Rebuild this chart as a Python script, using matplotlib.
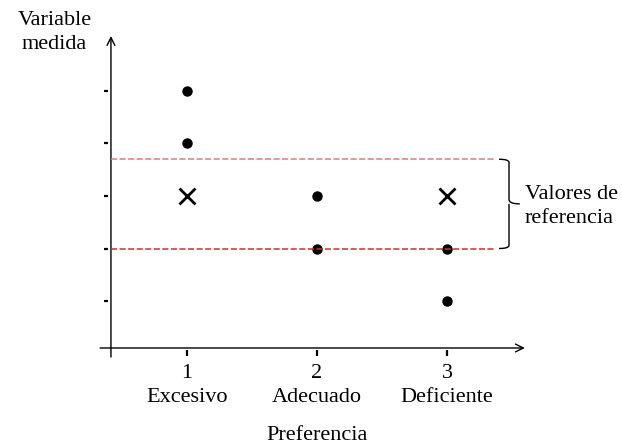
import matplotlib.pyplot as plt
from matplotlib.path import Path
from matplotlib.patches import PathPatch

# datos
categorias = [1, 2, 3]
nombres = ['Excesivo', 'Adecuado', 'Deficiente']
puntos_x = [1, 1, 2, 2, 3, 3]
puntos_y = [5, 4, 3, 2, 2, 1]
cruces_x = [1, 3]
cruces_y = [3, 3]
ref_sup = 3.7
ref_inf = 2.0
yticks = [1, 2, 3, 4, 5]

plt.rcParams['font.family'] = ['Liberation Serif', 'DejaVu Serif']

fig = plt.figure(figsize=(6.22, 4.44), dpi=100)
ax = fig.add_axes([0, 0, 1, 1])
ax.set_xlim(-57 / 130, 565 / 130)
ax.set_ylim(-90.5 / 52.5, 353.5 / 52.5)
ax.axis('off')

# ejes con flecha
flecha = dict(arrowstyle='->', color='black', lw=1.0, mutation_scale=14)
ax.annotate('', xy=(3.62, 0.105), xytext=(0.31, 0.105), arrowprops=flecha)
ax.annotate('', xy=(0.415, 6.1), xytext=(0.415, -0.12), arrowprops=flecha)

# marcas de los ejes
for yt in yticks:
    ax.plot([0.36, 0.39], [yt, yt], color='black', lw=1.6, solid_capstyle='butt')
for xt in categorias:
    ax.plot([xt, xt], [0.06, -0.05], color='black', lw=1.6, solid_capstyle='butt')
    ax.text(xt, -0.2, str(xt), ha='center', va='top', fontsize=16)
for xt, nm in zip(categorias, nombres):
    ax.text(xt, -0.66, nm, ha='center', va='top', fontsize=16)

# puntos
ax.plot(puntos_x, puntos_y, 'o', color='black', markersize=6.5, zorder=2)
ax.plot(cruces_x, cruces_y, 'x', color='black', markersize=11, mew=2, zorder=2)

# líneas de referencia
ax.plot([0.415, 3.36], [ref_sup, ref_sup], color='#e07a7a', lw=1.1, ls=(0, (4, 1.6)), zorder=3)
ax.plot([0.415, 3.36], [ref_inf, ref_inf], color='#c8323a', lw=1.1, ls=(0, (4, 1.6)), zorder=3)

# llave
x0 = 3.40
xm = 3.477
xb = 3.56
medio = (ref_sup + ref_inf) / 2
verts = [(x0, ref_sup), (xm, ref_sup), (xm, ref_sup - 0.06),
         (xm, medio + 0.08), (xm, medio), (xb, medio),
         (xm, medio), (xm, medio - 0.08),
         (xm, ref_inf + 0.06), (xm, ref_inf), (x0, ref_inf)]
codes = [Path.MOVETO, Path.CURVE3, Path.CURVE3, Path.LINETO, Path.CURVE3, Path.CURVE3,
         Path.MOVETO, Path.LINETO, Path.LINETO, Path.CURVE3, Path.CURVE3]
ax.add_patch(PathPatch(Path(verts, codes), fill=False, color='black', lw=1.0))
ax.text(3.6, 2.8, 'Valores de\nreferencia', ha='left', va='center',
        fontsize=16, linespacing=1.4)

# títulos de ejes
ax.text(-0.02, 6.52, 'Variable\nmedida', ha='center', va='top', fontsize=16, linespacing=1.35)
ax.text(2, -1.38, 'Preferencia', ha='center', va='top', fontsize=16)

fig.savefig('out.png', dpi=100)
